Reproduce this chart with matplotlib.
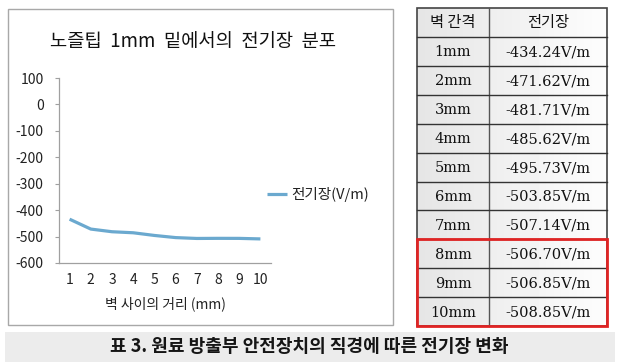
import numpy as np
import matplotlib
matplotlib.use("Agg")
import matplotlib.pyplot as plt
from matplotlib.patches import Rectangle

plt.rcParams['font.family'] = ['Noto Sans CJK KR', 'DejaVu Sans']
plt.rcParams['axes.unicode_minus'] = False

# data
gap_mm = [1, 2, 3, 4, 5, 6, 7, 8, 9, 10]
field = [-434.24, -471.62, -481.71, -485.62, -495.73,
         -503.85, -507.14, -506.70, -506.85, -508.85]
gap_labels = ["%dmm" % g for g in gap_mm]
field_labels = ["-%.2fV/m" % abs(v) for v in field]
highlight_rows = [7, 8, 9]   # 8mm ~ 10mm

title = "노즐팁  1mm  밑에서의  전기장  분포"
xlabel = "벽 사이의 거리 (mm)"
legend_label = "전기장(V/m)"
head = ["벽 간격", "전기장"]
caption = "표 3. 원료 방출부 안전장치의 직경에 따른 전기장 변화"

W, H = 620, 364
fig = plt.figure(figsize=(W / 100, H / 100), dpi=100)

# full-figure pixel axes for boxes, table and caption
bg = fig.add_axes([0, 0, 1, 1])
bg.set_xlim(0, W)
bg.set_ylim(H, 0)
bg.axis('off')

# chart frame
bg.add_patch(Rectangle((8, 9), 385, 316, fill=False, ec='#a8a8a8', lw=1))

# caption band
bg.add_patch(Rectangle((5, 332), 610, 30, fc='#ececec', ec='none'))
bg.text(309, 347, caption, ha='center', va='center', fontsize=13,
        fontweight='bold', color='#151515')

# table
tx0, tx1, tmid = 417, 607, 489
ty0, hh, rh = 8, 29, 28.9
n = len(gap_mm)
ty1 = ty0 + hh + rh * n
grad = np.linspace(0.90, 0.99, 50).reshape(1, -1)
bg.imshow(grad, extent=(tx0, tx1, ty1, ty0), cmap='gray', vmin=0, vmax=1,
          aspect='auto', zorder=1)
bg.add_patch(Rectangle((tx0, ty0), tx1 - tx0, ty1 - ty0, fill=False,
                       ec='#444444', lw=1.2, zorder=3))
bg.plot([tmid, tmid], [ty0, ty1], color='#555555', lw=1, zorder=3)
bg.plot([tx0, tx1], [ty0 + hh, ty0 + hh], color='#333333', lw=1, zorder=3)
for i in range(1, n):
    yy = ty0 + hh + rh * i
    bg.plot([tx0, tx1], [yy, yy], color='#333333', lw=1, zorder=3)
c1 = (tx0 + tmid) / 2
c2 = (tmid + tx1) / 2
bg.text(c1, ty0 + hh / 2, head[0], ha='center', va='center', fontsize=11,
        color='#111111', zorder=4)
bg.text(c2, ty0 + hh / 2, head[1], ha='center', va='center', fontsize=11,
        color='#111111', zorder=4)
for i in range(n):
    yc = ty0 + hh + rh * i + rh / 2 + 1
    bg.text(c1, yc, gap_labels[i], ha='center', va='center', fontsize=10.5,
            family='DejaVu Serif', color='#111111', zorder=4)
    bg.text(c2, yc, field_labels[i], ha='center', va='center', fontsize=10.5,
            family='DejaVu Serif', color='#111111', zorder=4)
r0 = ty0 + hh + rh * highlight_rows[0]
bg.add_patch(Rectangle((tx0, r0), tx1 - tx0, ty1 - r0, fill=False,
                       ec='#e02424', lw=2, zorder=5))

# line chart
ax = fig.add_axes([59 / W, 1 - 263 / H, 212 / W, 185 / H])
ax.patch.set_alpha(0)
ax.plot(gap_mm, field, color='#6ba9cf', lw=2.3, solid_capstyle='butt',
        label=legend_label)
ax.set_xlim(0.5, 10.5)
ax.set_ylim(-600, 100)
ax.set_yticks(np.arange(-600, 101, 100))
ax.set_xticks(gap_mm)
for s in ['top', 'right']:
    ax.spines[s].set_visible(False)
for s in ['left', 'bottom']:
    ax.spines[s].set_color('#a0a0a0')
    ax.spines[s].set_linewidth(0.9)
ax.tick_params(axis='y', length=3, color='#a0a0a0', labelsize=10,
               labelcolor='#222222', pad=8)
ax.tick_params(axis='x', length=0, labelsize=10, labelcolor='#222222', pad=7)
ax.set_xlabel(xlabel, fontsize=10, color='#222222', labelpad=7)
fig.text(193 / W, 1 - 42 / H, title, ha='center', va='center', fontsize=13.5,
         color='#111111')
ax.legend(loc='center left', bbox_to_anchor=(0.98, 0.37), frameon=False,
          fontsize=10.5, handlelength=1.4, handletextpad=0.3,
          borderpad=0, borderaxespad=0, labelcolor='#222222')

fig.savefig("out.png", dpi=100)
